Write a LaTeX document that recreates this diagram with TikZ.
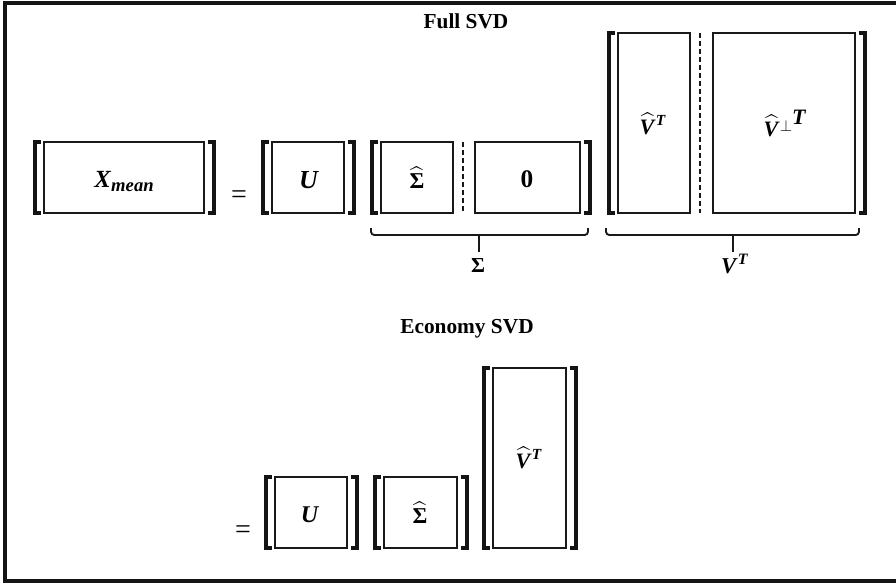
\documentclass[tikz,border=0pt]{standalone}
\usepackage{fontspec}
\usepackage{amsmath}
\setmainfont{Liberation Serif}
\usetikzlibrary{calc}
\newcommand\mbi[1]{\textbf{\textit{#1}}}
\newcommand\hatV{\ensuremath{\widehat{\text{\mbi{V}}}}}
\newcommand\hatS{\ensuremath{\widehat{\text{\textbf{Σ}}}}}
\newcommand\lbrk[1]{\draw[brk] ($(#1.north west)+(-3.5,0)$) -- ($(#1.north west)+(-9.5,0)$) -- ($(#1.south west)+(-9.5,0)$) -- ($(#1.south west)+(-3.5,0)$);}
\newcommand\rbrk[1]{\draw[brk] ($(#1.north east)+(3.5,0)$) -- ($(#1.north east)+(9.5,0)$) -- ($(#1.south east)+(9.5,0)$) -- ($(#1.south east)+(3.5,0)$);}
\tikzset{
  mat/.style 2 args={draw=black!90, line width=1.3pt, inner sep=0pt, outer sep=0pt,
    minimum width=#1*0.75pt, minimum height=#2*0.75pt},
  brk/.style={line width=3pt, line cap=butt, line join=miter, black!92},
  divider/.style={line width=1.9pt, dash pattern=on 4pt off 2pt, black!90},
  brace/.style={line width=1.4pt, rounded corners=2.5pt, black!90},
  tick/.style={line width=1.6pt, black!90},
  lbl/.style={anchor=base, inner sep=0pt},
  ttl/.style={anchor=base, inner sep=0pt, font=\fontsize{16}{18}\selectfont\bfseries},
}
\begin{document}
\begin{tikzpicture}[x=0.75pt,y=-0.75pt]
\useasboundingbox (0,0) rectangle (896,583);
% frame (right side lies outside the picture)
\draw[line width=2.3pt, black!92] (900,3) -- (5,3) -- (5,581) -- (900,581);

% titles
\node[ttl] (tfull) at (466,28) {Full SVD};
\node[ttl] (teco) at (467,333) {Economy SVD};

% ---------- Full SVD ----------
\node[mat={160}{71}] (X) at (124,177.5) {};
\node[mat={72}{71}] (U) at (308,177.5) {};
\node[mat={72}{71}] (Sh) at (417,177.5) {};
\node[mat={105}{71}] (Z) at (527.5,177.5) {};
\node[mat={72}{180}] (Vh) at (654,123) {};
\node[mat={142}{180}] (Vp) at (784,123) {};

\lbrk{X}\rbrk{X}
\lbrk{U}\rbrk{U}
\lbrk{Sh}\rbrk{Z}
\lbrk{Vh}\rbrk{Vp}

\draw[divider] (463,142) -- (463,213);
\draw[divider] (700,33) -- (700,213);

\node[lbl, font=\fontsize{18.5}{20}\selectfont] (lX) at (124,187) {\mbi{X}\raisebox{-3.6pt}{\fontsize{14}{15}\selectfont\mbi{mean}}};
\node[lbl, font=\fontsize{21}{24}\selectfont] (eq1) at (239,203) {=};
\node[lbl, font=\fontsize{19.5}{20}\selectfont] (lU) at (309,188) {\mbi{U}};
\node[lbl, font=\fontsize{17}{18}\selectfont] (lSh) at (417,188) {\hatS};
\node[lbl, font=\fontsize{19}{20}\selectfont] (lZ) at (527,187) {\textbf{0}};
\node[lbl, font=\fontsize{16.5}{18}\selectfont] (lVh) at (653,134) {\hatV\textsuperscript{\mbi{T}}};
\node[lbl, font=\fontsize{16.5}{18}\selectfont] (lVp) at (785,136) {\hatV\raisebox{3.5pt}{\fontsize{13}{14}\selectfont$\perp$}\raisebox{9pt}{\mbi{T}}};

% braces
\coordinate (sb1) at (371,228);
\coordinate (sb2) at (588,228);
\coordinate (sbm) at (479,235);
\draw[brace] (sb1) -- (371,235) -- (588,235) -- (sb2);
\draw[tick] (sbm) -- (479,252);
\node[lbl, font=\fontsize{16}{18}\selectfont] (lS) at (478,272) {\textbf{Σ}};

\coordinate (vb1) at (606,228);
\coordinate (vb2) at (859,228);
\coordinate (vbm) at (733,235);
\draw[brace] (vb1) -- (606,235) -- (859,235) -- (vb2);
\draw[tick] (vbm) -- (733,252);
\node[lbl, font=\fontsize{17}{19}\selectfont] (lV) at (735,273) {\mbi{V}\textsuperscript{\mbi{T}}};

% ---------- Economy SVD ----------
\node[mat={72}{71}] (eU) at (311,512.5) {};
\node[mat={73}{71}] (eS) at (420.5,512.5) {};
\node[mat={73}{180}] (eV) at (529.5,458) {};
\lbrk{eU}\rbrk{eU}
\lbrk{eS}\rbrk{eS}
\lbrk{eV}\rbrk{eV}

\node[lbl, font=\fontsize{21}{24}\selectfont] (eq2) at (243,538) {=};
\node[lbl, font=\fontsize{18}{20}\selectfont] (leU) at (310,522) {\mbi{U}};
\node[lbl, font=\fontsize{17}{18}\selectfont] (leS) at (420,523) {\hatS};
\node[lbl, font=\fontsize{16.5}{18}\selectfont] (leV) at (529,468) {\hatV\textsuperscript{\mbi{T}}};
\end{tikzpicture}
\end{document}
